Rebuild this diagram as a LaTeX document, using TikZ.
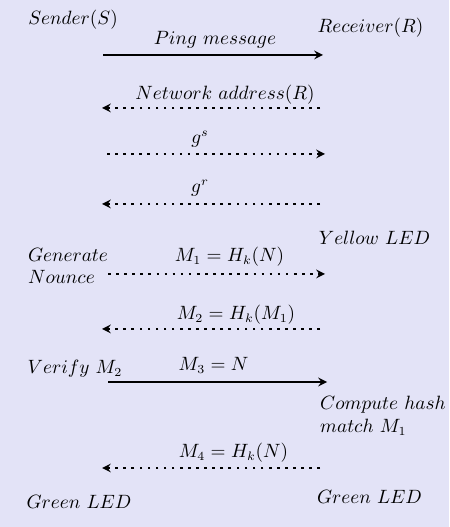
\documentclass[tikz,border=0pt]{standalone}
\usetikzlibrary{arrows}
\definecolor{bglav}{RGB}{227,227,247}

\begin{document}
\begin{tikzpicture}[line cap=butt,line join=round,>=stealth,x=1.0cm,y=1.0cm,
  font=\fontsize{10.6pt}{12.8pt}\selectfont,
  msg/.style={very thick,->},
  dotmsg/.style={very thick,->,dash pattern=on 1.5pt off 3.1pt}]
\useasboundingbox (0,0) rectangle (8.98,10.54);
\fill[color=bglav] (0,0) rectangle (8.98,10.54);
% the two parties
\node (sender) at (1.46,10.14) {$Sender(S)$};
\node (receiver) at (7.41,9.98) {$Receiver(R)$};
% arrow ends, sender side (s) and receiver side (r)
\coordinate (s1) at (2.06,9.44);  \coordinate (r1) at (6.46,9.44);
\coordinate (s2) at (2.04,8.38);  \coordinate (r2) at (6.40,8.38);
\coordinate (s3) at (2.14,7.46);  \coordinate (r3) at (6.50,7.46);
\coordinate (s4) at (2.04,6.46);  \coordinate (r4) at (6.40,6.46);
\coordinate (s5) at (2.16,5.06);  \coordinate (r5) at (6.50,5.06);
\coordinate (s6) at (2.04,3.96);  \coordinate (r6) at (6.40,3.96);
\coordinate (s7) at (2.16,2.90);  \coordinate (r7) at (6.54,2.90);
\coordinate (s8) at (2.04,1.18);  \coordinate (r8) at (6.40,1.18);
% messages
\draw [msg] (s1) -- (r1);
\node (ping) at (4.30,9.74) {$Ping\ message$};
\draw [dotmsg] (r2) -- (s2);
\node (netaddr) at (4.50,8.64) {$Network\ address(R)$};
\draw [dotmsg] (s3) -- (r3);
\node (gs) at (4.00,7.76) {$g^s$};
\draw [dotmsg] (r4) -- (s4);
\node (gr) at (4.00,6.78) {$g^r$};
\draw [dotmsg] (s5) -- (r5);
\node (mone) at (4.59,5.40) {$M_1 = H_k(N)$};
\draw [dotmsg] (r6) -- (s6);
\node (mtwo) at (4.72,4.24) {$M_2 = H_k(M_1)$};
\draw [msg] (s7) -- (r7);
\node (mthree) at (4.27,3.24) {$M_3 = N$};
\draw [dotmsg] (r8) -- (s8);
\node (mfour) at (4.67,1.48) {$M_4 = H_k(N)$};
% local steps
\node (yellow) at (7.49,5.78) {$Yellow\ LED$};
\node[align=left] (gennonce) at (1.36,5.22) {$Generate$\\$Nounce$};
\node (verify) at (1.50,3.16) {$Verify\ M_2$};
\node[align=left] (compute) at (7.66,2.22) {$Compute\ hash$\\$match\ M_1$};
\node (greens) at (1.58,0.50) {$Green\ LED$};
\node (greenr) at (7.39,0.60) {$Green\ LED$};
\end{tikzpicture}
\end{document}
